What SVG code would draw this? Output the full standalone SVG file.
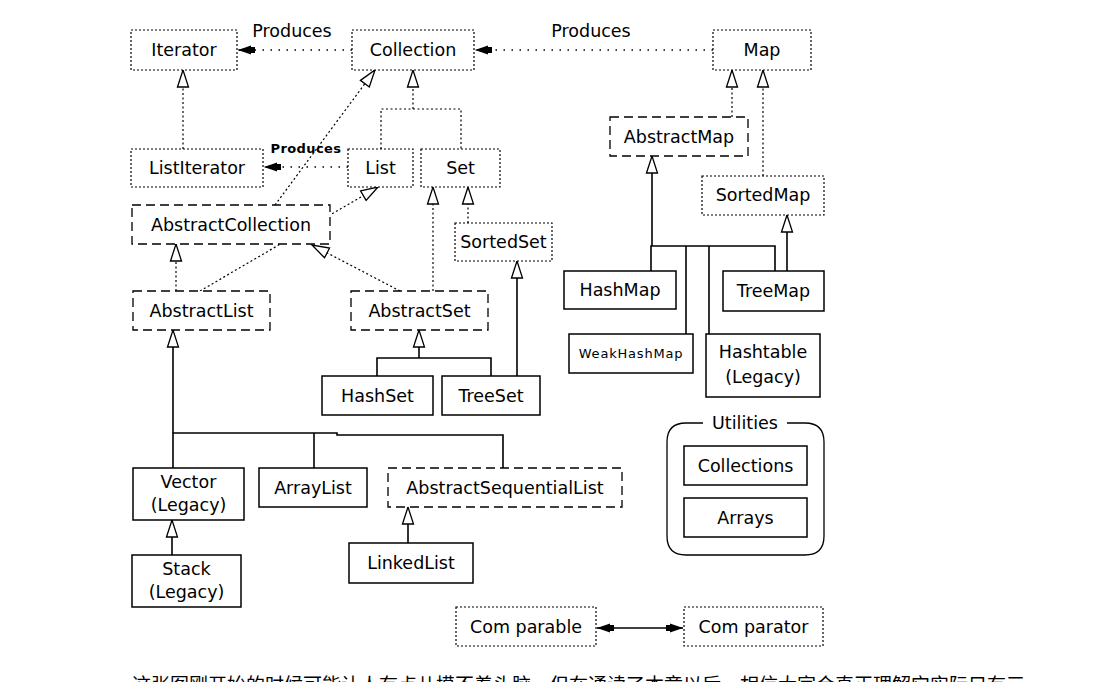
<svg xmlns="http://www.w3.org/2000/svg" width="1099" height="682" viewBox="0 0 1099 682">
<style>
text{font-family:"DejaVu Sans","Liberation Sans",sans-serif;font-size:17.5px;fill:#000;text-anchor:middle}
.sm{font-size:13px;letter-spacing:0.8px}
.pr{font-size:13px;font-weight:bold;letter-spacing:0.4px}
.cn{font-family:"Noto Sans CJK SC",sans-serif;font-size:19px;text-anchor:start}
.dot{fill:#fff;stroke:#000;stroke-width:1.2;stroke-dasharray:2 2}
.dash{fill:#fff;stroke:#000;stroke-width:1.3;stroke-dasharray:9 5}
.sol{fill:#fff;stroke:#000;stroke-width:1.5}
.cd{fill:none;stroke:#000;stroke-width:1.2;stroke-dasharray:2 2.5}
.cp{fill:none;stroke:#000;stroke-width:1.3;stroke-dasharray:1.5 6.5}
.cs{fill:none;stroke:#000;stroke-width:1.6}
</style>
<defs>
<marker id="tri" viewBox="-1 -7 20 14" refX="17" refY="0" markerWidth="20" markerHeight="14" markerUnits="userSpaceOnUse" orient="auto"><path d="M0,-5.5 L17,0 L0,5.5 z" fill="#fff" stroke="#000" stroke-width="1.3"/></marker>
<marker id="fil" viewBox="-1 -6 19 12" refX="17" refY="0" markerWidth="19" markerHeight="12" markerUnits="userSpaceOnUse" orient="auto-start-reverse"><path d="M0,-3 L5,-3 L17,0 L5,3 L0,3 z" fill="#000"/><path d="M4,-4.5 L17,0 L4,4.5 z" fill="#000"/></marker>
</defs>
<rect width="1099" height="682" fill="#fff"/>
<g id="connectors">
<path class="cp" d="M352,50 H238" marker-end="url(#fil)"/>
<path class="cp" d="M713,50 H475" marker-end="url(#fil)"/>
<path class="cp" d="M348,167 H264" marker-end="url(#fil)"/>
<path class="cd" d="M183,149 V70" marker-end="url(#tri)"/>
<path class="cd" d="M381,149 V109 H461 V149"/>
<path class="cd" d="M413,109 V70" marker-end="url(#tri)"/>
<path class="cd" d="M275,205 L375,70" marker-end="url(#tri)"/>
<path class="cd" d="M200,291 L378,187" marker-end="url(#tri)"/>
<path class="cd" d="M400,291 L312,245" marker-end="url(#tri)"/>
<path class="cd" d="M433,291 V187" marker-end="url(#tri)"/>
<path class="cd" d="M468,223 V187" marker-end="url(#tri)"/>
<path class="cd" d="M176,291 V244" marker-end="url(#tri)"/>
<path class="cs" d="M377,376 V358 H491 V376"/>
<path class="cs" d="M419,358 V330" marker-end="url(#tri)"/>
<path class="cs" d="M517,376 V261" marker-end="url(#tri)"/>
<path class="cs" d="M173,468 V433 H337 V435 H503 V468"/>
<path class="cs" d="M314,433 V468"/>
<path class="cs" d="M173,433 V330" marker-end="url(#tri)"/>
<path class="cs" d="M172,555 V520" marker-end="url(#tri)"/>
<path class="cs" d="M408,543 V507" marker-end="url(#tri)"/>
<path class="cd" d="M732,117 V70" marker-end="url(#tri)"/>
<path class="cd" d="M763,176 V70" marker-end="url(#tri)"/>
<path class="cs" d="M651,271 V246 H775 V271"/>
<path class="cs" d="M686,246 V334"/>
<path class="cs" d="M709,246 V334"/>
<path class="cs" d="M652,246 V156" marker-end="url(#tri)"/>
<path class="cs" d="M787,271 V215" marker-end="url(#tri)"/>
<path class="cs" d="M597,628 H683" marker-start="url(#fil)" marker-end="url(#fil)"/>
<text x="292" y="37">Produces</text>
<text x="591" y="37">Produces</text>
<text class="pr" x="306" y="153">Produces</text>
</g>
<g id="Iterator"><rect class="dot" x="131" y="30" width="106" height="40"/><text x="184" y="56">Iterator</text></g>
<g id="Collection"><rect class="dot" x="352" y="30" width="122" height="40"/><text x="413" y="56">Collection</text></g>
<g id="Map"><rect class="dot" x="713" y="30" width="98" height="40"/><text x="762" y="56">Map</text></g>
<g id="ListIterator"><rect class="dot" x="131" y="149" width="132" height="38"/><text x="197" y="174">ListIterator</text></g>
<g id="List"><rect class="dot" x="348" y="149" width="65" height="38"/><text x="380.5" y="174">List</text></g>
<g id="Set"><rect class="dot" x="421" y="149" width="79" height="38"/><text x="460.5" y="174">Set</text></g>
<g id="AbstractCollection"><rect class="dash" x="132" y="205" width="198" height="39"/><text x="231" y="231">AbstractCollection</text></g>
<g id="SortedSet"><rect class="dot" x="455" y="223" width="97" height="38"/><text x="503.5" y="248">SortedSet</text></g>
<g id="AbstractList"><rect class="dash" x="133" y="291" width="137" height="39"/><text x="201.5" y="317">AbstractList</text></g>
<g id="AbstractSet"><rect class="dash" x="351" y="291" width="137" height="39"/><text x="419.5" y="317">AbstractSet</text></g>
<g id="HashSet"><rect class="sol" x="322" y="376" width="111" height="39"/><text x="377.5" y="402">HashSet</text></g>
<g id="TreeSet"><rect class="sol" x="442" y="376" width="98" height="39"/><text x="491" y="402">TreeSet</text></g>
<g id="Vector"><rect class="sol" x="133" y="468" width="111" height="52"/><text x="188.5" y="488">Vector</text><text x="188.5" y="511">(Legacy)</text></g>
<g id="ArrayList"><rect class="sol" x="259" y="468" width="108" height="39"/><text x="313" y="494">ArrayList</text></g>
<g id="AbstractSequentialList"><rect class="dash" x="388" y="468" width="234" height="39"/><text x="505" y="494">AbstractSequentialList</text></g>
<g id="LinkedList"><rect class="sol" x="349" y="543" width="124" height="40"/><text x="411" y="569">LinkedList</text></g>
<g id="Stack"><rect class="sol" x="132" y="555" width="109" height="52"/><text x="186.5" y="575">Stack</text><text x="186.5" y="598">(Legacy)</text></g>
<g id="AbstractMap"><rect class="dash" x="610" y="117" width="138" height="39"/><text x="679" y="143">AbstractMap</text></g>
<g id="SortedMap"><rect class="dot" x="702" y="176" width="122" height="39"/><text x="763" y="201">SortedMap</text></g>
<g id="HashMap"><rect class="sol" x="564" y="271" width="112" height="38"/><text x="620" y="296">HashMap</text></g>
<g id="TreeMap"><rect class="sol" x="723" y="271" width="101" height="40"/><text x="773.5" y="297">TreeMap</text></g>
<g id="WeakHashMap"><rect class="sol" x="569" y="334" width="124" height="39"/><text class="sm" x="631" y="358">WeakHashMap</text></g>
<g id="Hashtable"><rect class="sol" x="706" y="334" width="114" height="63"/><text x="763" y="358">Hashtable</text><text x="763" y="383">(Legacy)</text></g>
<g id="Utilities"><path fill="none" stroke="#000" stroke-width="1.3" d="M787,423 H805 Q824,423 824,442 V536 Q824,555 805,555 H686 Q667,555 667,536 V442 Q667,423 686,423 H703"/><text x="745" y="429">Utilities</text></g>
<g id="Collections"><rect class="sol" x="684" y="446" width="123" height="39"/><text x="745.5" y="472">Collections</text></g>
<g id="Arrays"><rect class="sol" x="684" y="498" width="123" height="39"/><text x="745.5" y="524">Arrays</text></g>
<g id="Comparable"><rect class="dot" x="456" y="607" width="140" height="39"/><text x="526" y="633">Com parable</text></g>
<g id="Comparator"><rect class="dot" x="684" y="607" width="139" height="39"/><text x="753.5" y="633">Com parator</text></g>
<g id="caption"><text class="cn" x="132" y="692">这张图刚开始的时候可能让人有点儿摸不着头脑，但在通读了本章以后，相信大家会真正理解它实际只有三</text></g>
</svg>
